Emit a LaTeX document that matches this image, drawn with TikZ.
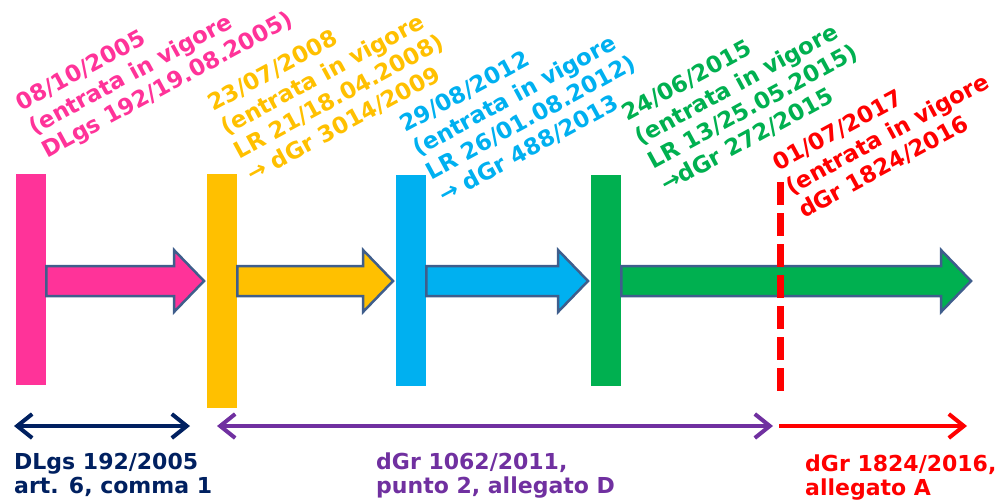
\documentclass[tikz,border=0pt]{standalone}
\usepackage{fontspec}
\setmainfont{DejaVu Sans}
\usepackage{tikz}
\usetikzlibrary{arrows.meta,calc}

\definecolor{pinkc}{HTML}{FF3399}
\definecolor{yellowc}{HTML}{FFC000}
\definecolor{bluec}{HTML}{00B0F0}
\definecolor{greenc}{HTML}{00B050}
\definecolor{redc}{HTML}{FF0000}
\definecolor{navyc}{HTML}{002060}
\definecolor{purplec}{HTML}{7030A0}
\definecolor{edgec}{HTML}{3F5E8C}

% fat arrow from a bar to the next one
\newcommand{\blockarrow}[3]{%
  \draw[fat, fill=#3] (#1 |- 0,266) -- ($(#2 |- 0,266)+(-33,0)$) -- ($(#2 |- 0,250)+(-33,0)$)
    -- ($(#2 |- 0,281)+(-3,0)$) -- ($(#2 |- 0,312)+(-33,0)$) -- ($(#2 |- 0,296)+(-33,0)$)
    -- (#1 |- 0,296) -- cycle;}

\begin{document}
\begin{tikzpicture}[x=1pt,y=-1pt,
  bar/.style={rectangle, inner sep=0pt, minimum width=30pt, anchor=north west},
  fat/.style={draw=edgec, line width=2.5pt, line join=miter},
  date/.style={rotate=28.5, anchor=base west, align=left, inner sep=0pt,
    font=\bfseries\fontsize{22.8}{27}\selectfont},
  law/.style={anchor=base west, align=left, inner sep=0pt,
    font=\bfseries\fontsize{22}{24}\selectfont},
  period/.style={line width=4pt}]

	\useasboundingbox (0,0) rectangle (999,501);

	% bars
	\node[bar, fill=pinkc, minimum height=211pt] (b1) at (16,174) {};
	\node[bar, fill=yellowc, minimum height=234pt] (b2) at (207,174) {};
	\node[bar, fill=bluec, minimum height=211pt] (b3) at (396,175) {};
	\node[bar, fill=greenc, minimum height=211pt] (b4) at (591,175) {};
	\coordinate (gend) at (974,281);

	% arrows between the dates
	\blockarrow{b1.east}{b2.west}{pinkc}
	\blockarrow{b2.east}{b3.west}{yellowc}
	\blockarrow{b3.east}{b4.west}{bluec}
	\blockarrow{b4.east}{gend}{greenc}

	% 2017
	\coordinate (d1) at (780,182);
	\coordinate (d2) at (780,393);
	\draw[redc, line width=7pt, dash pattern=on 23pt off 8pt] (d1) -- (d2);

	% dates (anchored at the last line)
	\node[date, text=pinkc] (n1) at (47,159) {08/10/2005\\(entrata in vigore\\DLgs 192/19.08.2005)};
	\node[date, text=yellowc] (n2) at (252,183) {23/07/2008\\(entrata in vigore\\LR 21/18.04.2008)\\→ dGr 3014/2009};
	\node[date, text=bluec] (n3) at (444,204) {29/08/2012\\(entrata in vigore\\LR 26/01.08.2012)\\→ dGr 488/2013};
	\node[date, text=greenc] (n4) at (666,193) {24/06/2015\\(entrata in vigore\\LR 13/25.05.2015)\\→dGr 272/2015};
	\node[date, text=redc] (n5) at (804,219) {01/07/2017\\(entrata in vigore\\dGr 1824/2016};

	% periods
	\coordinate (p1) at (14,426);
	\coordinate (p2) at (190,426);
	\coordinate (p3) at (217,426);
	\coordinate (p4) at (773,426);
	\coordinate (p5) at (779,426);
	\coordinate (p6) at (967,426);
	\draw[period, navyc, {Straight Barb[length=15pt,width=24pt]}-{Straight Barb[length=15pt,width=24pt]}] (p1) -- (p2);
	\draw[period, purplec, {Straight Barb[length=15pt,width=24pt]}-{Straight Barb[length=15pt,width=24pt]}] (p3) -- (p4);
	\draw[period, redc, -{Straight Barb[length=15pt,width=24pt]}] (p5) -- (p6);

	\node[law, text=navyc] (t1) at (14,493) {DLgs 192/2005\\art. 6, comma 1};
	\node[law, text=purplec] (t2) at (376,493) {dGr 1062/2011,\\punto 2, allegato D};
	\node[law, text=redc] (t3) at (805,495) {dGr 1824/2016,\\allegato A};

\end{tikzpicture}
\end{document}
